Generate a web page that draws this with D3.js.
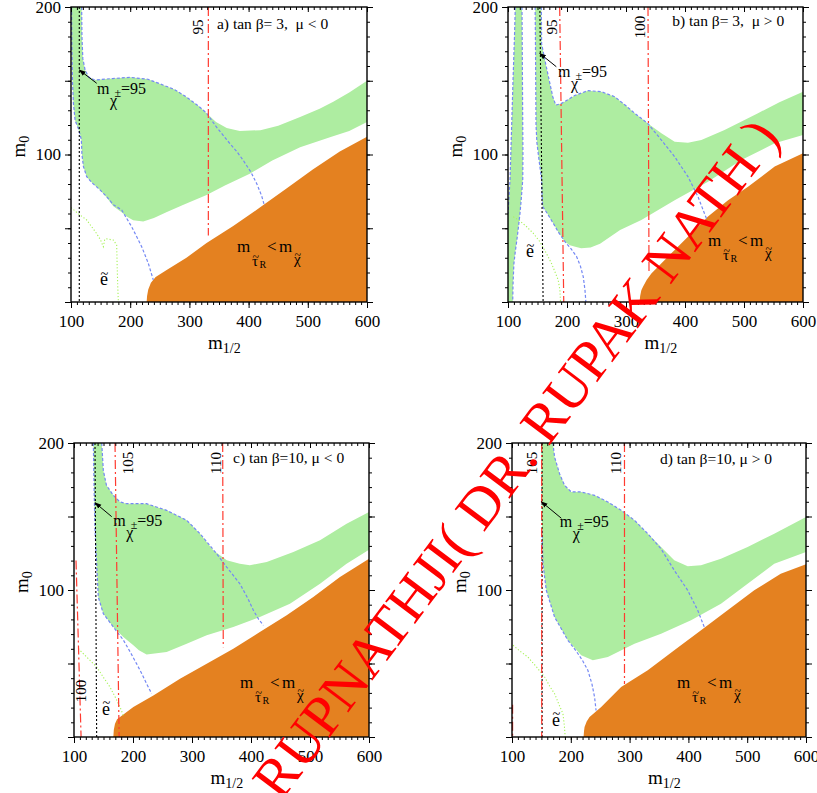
<!DOCTYPE html>
<html><head><meta charset="utf-8">
<script src="https://cdn.jsdelivr.net/npm/d3@7/dist/d3.min.js"></script>
<style>
body{margin:0;background:#fff}
svg{display:block}
text{font-family:"Liberation Serif","Times New Roman",serif;fill:#000;white-space:pre}
</style>
</head><body>
<svg id="c" width="817" height="793"></svg>
<script>
// ---------------- DATA (m_1/2 , m_0) ----------------
const X_TICK_LABELS = [100,200,300,400,500,600];
const Y_TICK_LABELS = [100,200];
const TITLES = ["a) tan \u03b2= 3,  \u03bc < 0","b) tan \u03b2= 3,  \u03bc > 0","c) tan \u03b2=10, \u03bc < 0","d) tan \u03b2=10, \u03bc > 0"];

// panel a
const greenA = [[101,200],[118,200],[118.5,180],[120,165],[124,157],[130,152.5],[140,150.5],[170,151.5],[200,152.3],[230,151],[250,148],[275,144],[295,139],[315,133],[329,128],[345,122],[363,118],[385,116],[420,116.5],[450,119.5],[487,125.5],[520,131],[543,135.8],[570,142],[600,150],[600,122],[570,116],[540,112],[487,105],[440,96],[402,87],[360,79],[329,72.5],[290,66],[262,61],[240,57],[222,54.5],[205,55.5],[194,58],[185,61],[171.5,65],[160,71],[149,76],[135,81],[126.5,85],[121,91.8],[118.5,100],[117.5,110],[113,117],[107,123],[104,135],[102.5,150],[101.5,175]];
const orangeA = [[227.8,0],[228.5,4],[230.5,8.5],[235,13],[243,17],[261.6,21.7],[295,30],[329,40],[374,51.5],[419,64],[464,77],[509,90],[554,102],[600,112],[600,0]];
const blueA1 = [[118,200],[118.5,180],[120,165],[124,157],[130,152.5],[140,150.5],[170,151.5],[200,152.3],[230,151],[250,148],[275,144],[295,139],[315,133],[329,128],[345,119],[363,110],[380,102],[391,96],[404,88],[414,80],[422,72],[427,65]];
const blueA2 = [[101,200],[101.5,175],[102.5,150],[104,135],[107,123],[113,117],[117.5,110],[118.5,100],[121,91.8],[126.5,85],[135,81],[149,76],[160.3,71.4],[171.5,66],[185.6,62.4],[202.5,51],[219.4,37.5],[230.6,26.2],[239,15]];
const greenDotA = [[100,64],[112,60],[126.5,55.6],[143,46.6],[150,42],[154.6,37.5],[157,42.5],[160,42.8],[171.5,42],[177.2,38.6],[178,24],[179,10],[180,0]];
const redA = [{m:[332,332], y:[200,45], label:"95"}];
const blackA = [[114,200],[114,0]];

// panel b
const greenB1 = [[112.4,200],[123.7,200],[124.5,150],[125.3,100],[125,83],[122.5,70],[120.3,60],[116,45],[112,33],[110,26],[108.5,12],[108,0],[100,0],[100,60],[103.4,82.7],[105.5,110],[108.5,150],[111,180]];
const greenB2 = [[146,200],[156.5,200],[157,175],[162,165],[170,150],[176,139],[181,133.5],[190,134.5],[196,135.8],[213,140],[235.6,143.3],[258,142.6],[280.8,139.2],[300,133],[314.7,128],[337,121],[360,114.4],[382.5,108.7],[405,108],[427.7,109.8],[467,116.6],[523.7,128],[560,135.5],[600,142.6],[600,113.2],[552,107.6],[495.5,96.3],[439,81.6],[382.5,69],[326,55.6],[290,48.8],[256,39.5],[240,37],[224,36.4],[214,37.5],[205,38.5],[196.6,40.9],[186,47],[176.8,53.3],[165,61],[158.8,64.6],[157.5,75],[157,82.7],[153,95],[149,108],[147.5,120],[147,150],[146.5,180]];
const orangeB = [[323,0],[324,4],[326,8],[328.8,10.4],[335,15],[343,19.4],[371,30.7],[405,44.3],[439,57.9],[473,69],[506.8,78.2],[552,91.8],[600,100.8],[600,0]];
const blueB1 = [[112.4,200],[111,180],[108.5,150],[105.5,110],[103.4,82.7],[100,60]];
const blueB2 = [[123.7,200],[124.5,150],[125.3,100],[125,83],[122.5,70],[120.3,60],[116,45],[112,33],[110,26],[108.5,12],[108,0]];
const blueB3 = [[146,200],[146.5,180],[147,150],[147.5,120],[149,108],[153,95],[157,82.7],[157.5,75],[158.8,64.6],[165,61],[176.8,53.3],[186,47],[196.6,40.9],[207,36],[216.4,30.7],[223,24],[227.6,17],[230.5,8],[232,0]];
const blueB4 = [[156.5,200],[157,175],[162,165],[170,150],[176,139],[181,133.5],[190,134.5],[196,135.8],[213,140],[235.6,143.3],[258,142.6],[280.8,139.2],[300,133],[314.7,128],[337,121],[360,109.8],[382.5,98.5],[405,85],[422,71.4],[433,60],[437,56]];
const greenDotB = [[109,57.8],[120,55],[131.7,51],[143,46.5],[154,40.9],[165,33],[174,26],[180,20],[185,15],[188,8],[189,0]];
const redB = [{m:[187.6,194.5], y:[200,0], label:"95"},{m:[337.3,339], y:[200,20], label:"100"}];
const blackB = [[154,200],[159.5,0]];

// panel c
const greenC = [[132.8,200],[147,200],[149.7,181.4],[155,171.2],[166.7,164.4],[178,159.9],[189,158.7],[223,158.7],[257,154.2],[291,147.4],[313.6,138.3],[336,127],[358.8,120.2],[381,117.9],[398,116.8],[426.6,119],[471.8,125.9],[517,133.8],[562,145],[600,153],[600,127.4],[562,117.9],[517,104.3],[466,90.7],[415,81.6],[370,74.8],[324.9,69.2],[291,63.5],[257,57.8],[223,56.2],[210,59],[200.6,62.4],[183.6,68],[166.7,74.8],[149.7,83.9],[141.2,95.2],[138.4,118],[135.6,140.6],[134,170]];
const orangeC = [[166.7,0],[167.5,5],[169.5,9],[173,12],[178,13.6],[200.6,20.4],[234.5,28.3],[279.7,39.7],[324.9,49.9],[370,60],[415,71.4],[460.5,82.8],[505.6,95.2],[550.8,108.8],[600,121.3],[600,0]];
const blueC1 = [[147,200],[149.7,181.4],[155,171.2],[166.7,164.4],[178,159.9],[189,158.7],[223,158.7],[257,154.2],[291,147.4],[313.6,138.3],[341.8,124.7],[358.8,115.6],[381,104.3],[395,94],[404,86.2],[413,80],[421,76]];
const blueC2 = [[132.8,200],[134,170],[135.6,140.6],[138.4,118],[141.2,95.2],[149.7,83.9],[166.7,74.8],[183.6,66],[195,58],[206,49.9],[215,43],[223,36.3],[231.6,29.5]];
const greenDotC = [[107.3,60.1],[120,55],[138.5,47.6],[150,40.5],[161,34],[170,27],[178,20.4],[183.6,14.7]];
const redC = [{m:[169.5,176.5], y:[200,0], label:"105"},{m:[352,353], y:[200,61], label:"110"},{m:[103.4,112], y:[120,0], label:"100"}];
const blackC = [[135.6,200],[138.4,0]];

// panel d
const greenD = [[149.8,200],[169.6,200],[172.4,190.5],[180.9,179.1],[189.4,171.2],[200.7,166.7],[217.7,166.7],[240.4,164.4],[263,159.9],[285.6,154.2],[308.3,147.4],[330.9,138.3],[353.5,129.3],[376,120.2],[398.8,116.1],[421.5,116.8],[455.4,121.3],[500.7,129.3],[546,138.3],[600,149.7],[600,125.9],[546,117.9],[500.7,104.3],[455.4,90.7],[404.5,79.4],[353.5,70.3],[308.3,63.5],[263,54.4],[237.5,52.2],[217.7,55.6],[195,65.8],[172.4,81.6],[158.3,99.8],[152.6,118],[151,140.6],[150.3,170]];
const orangeD = [[221.7,0],[222.5,4],[223.4,6.8],[227,10.5],[231.9,13.6],[251.7,20.4],[285.6,34],[330.9,45.4],[376,59],[421.5,72.6],[466.7,86.2],[512,99.8],[557,111.1],[600,117.5],[600,0]];
const blueD1 = [[169.6,200],[172.4,190.5],[180.9,179.1],[189.4,171.2],[200.7,166.7],[217.7,166.7],[240.4,164.4],[263,159.9],[285.6,154.2],[308.3,147.4],[330.9,138.3],[353.5,128],[376,113.4],[398.8,99.8],[415.8,86.2],[427,74.8]];
const blueD2 = [[151,140.6],[152.6,118],[158.3,99.8],[172.4,81.6],[195,65.8],[210,58],[220,52],[229,45.4],[236,36],[240.4,27.2],[243,18]];
const greenDotD = [[101.7,62.4],[115,58],[127,54.4],[142,47.5],[155.5,40.8],[165,34],[172.4,29.5],[180,22],[186.6,15.9],[189,8],[190.5,0]];
const redD = [{m:[150.5,150.5], y:[200,0], label:"105"},{m:[291.3,291.3], y:[200,36], label:"110"},{m:[101,101], y:[22,0], label:""}];
const blackD = [[151.2,200],[151.2,0]];

const WATERMARK = "RUPNATHJI( DR. RUPAK NATH )";

// ---------------- STYLE / LAYOUT ----------------
const GREEN = "#aeeda1", ORANGE = "#e48120", BLUE = "#7488f4", RED = "#ff3b30", GDOT = "#a8f25a";

const panels = [
  {id:"a", frame:[71,7,367,302], title:TITLES[0], titleAt:[346.6,185.1],
   green:[greenA], orange:orangeA, blue:[blueA1,blueA2], gdot:greenDotA, red:redA, black:blackA,
   redLab:[{dx:-5}], chiAt:[143.9,141], arrow:[[143.4,148.3],[114,157.3]], eAt:[149,11.5], tauAt:[380.4,33.9]},
  {id:"b", frame:[508,7,803,302], title:TITLES[1], titleAt:[378.3,187.1],
   green:[greenB1,greenB2], orange:orangeB, blue:[blueB1,blueB2,blueB3,blueB4], gdot:greenDotB, red:redB, black:blackB,
   redLab:[{dx:-3},{dx:-3}], chiAt:[184.7,152.7], arrow:[[181.9,159.5],[153.7,168.6]], eAt:[130.5,30.5], tauAt:[439,38]},
  {id:"c", frame:[74,443,369,737], title:TITLES[2], titleAt:[369.5,186.1],
   green:[greenC], orange:orangeC, blue:[blueC1,blueC2], gdot:greenDotC, red:redC, black:blackC,
   redLab:[{dx:18},{dx:-2},{dx:10, cy:691}], chiAt:[166.6,143.5], arrow:[[163.9,149.9],[135.6,159.4]], eAt:[147.5,15], tauAt:[381.4,33.3]},
  {id:"d", frame:[512,443,806,737], title:TITLES[3], titleAt:[351.7,185.7],
   green:[greenD], orange:orangeD, blue:[blueD1,blueD2], gdot:greenDotD, red:redD, black:blackD,
   redLab:[{dx:-5},{dx:-3},{dx:0}], chiAt:[181.1,143.1], arrow:[[183.9,148.8],[149.8,160.1]], eAt:[168,7.5], tauAt:[380.6,33.3]}
];

const svg = d3.select("#c");
const defs = svg.append("defs");
defs.append("marker").attr("id","arr").attr("viewBox","0 0 10 10").attr("refX",9).attr("refY",5)
  .attr("markerWidth",7).attr("markerHeight",7).attr("orient","auto")
  .append("path").attr("d","M0,1.5 L10,5 L0,8.5 Z").attr("fill","#000");

function tilded(g, x, y, ch, size){
  g.append("text").attr("x",x).attr("y",y).attr("font-size",size).text(ch);
  g.append("text").attr("x",x+0.5).attr("y",y-size*0.36).attr("font-size",size*0.8).text("~");
}

function drawPanel(p){
  const [x0,y0,x1,y1] = p.frame;
  const x = d3.scaleLinear().domain([100,600]).range([x0,x1]);
  const y = d3.scaleLinear().domain([0,200]).range([y1,y0]);
  const line = d3.line().x(d=>x(d[0])).y(d=>y(d[1]));
  defs.append("clipPath").attr("id","clip"+p.id).append("rect")
    .attr("x",x0).attr("y",y0).attr("width",x1-x0).attr("height",y1-y0);
  const g = svg.append("g");
  const pg = g.append("g").attr("clip-path",`url(#clip${p.id})`);

  p.green.forEach(poly => pg.append("path").attr("d", line(poly)+"Z").attr("fill",GREEN));
  pg.append("path").attr("d", line(p.orange)+"Z").attr("fill",ORANGE);

  p.blue.forEach(l => pg.append("path").attr("d", line(l)).attr("fill","none")
    .attr("stroke",BLUE).attr("stroke-width",1.2).attr("stroke-dasharray","3,2"));
  pg.append("path").attr("d", line(p.gdot)).attr("fill","none")
    .attr("stroke",GDOT).attr("stroke-width",1.1).attr("stroke-dasharray","1.2,2");
  pg.append("path").attr("d", line(p.black)).attr("fill","none")
    .attr("stroke","#000").attr("stroke-width",1.1).attr("stroke-dasharray","2,2");
  p.red.forEach((r,i) => {
    pg.append("line").attr("x1",x(r.m[0])).attr("y1",y(r.y[0])).attr("x2",x(r.m[1])).attr("y2",y(r.y[1]))
      .attr("stroke",RED).attr("stroke-width",1.2).attr("stroke-dasharray","9,3,2,3");
    if(r.label){
      const lab = p.redLab[i];
      const bx = x(r.m[0]) + lab.dx;
      const cy = lab.cy !== undefined ? lab.cy : y0 + 20;
      g.append("text").attr("transform",`translate(${bx},${cy}) rotate(-90)`)
        .attr("text-anchor","middle").attr("font-size",15).text(r.label);
    }
  });

  // arrow
  g.append("line").attr("x1",x(p.arrow[0][0])).attr("y1",y(p.arrow[0][1]))
    .attr("x2",x(p.arrow[1][0])).attr("y2",y(p.arrow[1][1]))
    .attr("stroke","#000").attr("stroke-width",1).attr("marker-end","url(#arr)");

  // m_chi label
  const cx = x(p.chiAt[0]), cyy = y(p.chiAt[1]);
  g.append("text").attr("x",cx).attr("y",cyy).attr("font-size",16).text("m");
  g.append("text").attr("x",cx+13).attr("y",cyy+12).attr("font-size",16).text("\u03c7");
  g.append("text").attr("x",cx+17.5).attr("y",cyy+3).attr("font-size",12).text("\u00b1");
  g.append("text").attr("x",cx+24).attr("y",cyy).attr("font-size",16).text("=95");

  // selectron label
  tilded(g, x(p.eAt[0]), y(p.eAt[1]), "e", 18);

  // stau < chi label
  const tx = x(p.tauAt[0]), ty = y(p.tauAt[1]);
  g.append("text").attr("x",tx).attr("y",ty).attr("font-size",17).text("m");
  tilded(g, tx+15, ty+14, "\u03c4", 15);
  g.append("text").attr("x",tx+22.5).attr("y",ty+16).attr("font-size",10).text("R");
  g.append("text").attr("x",tx+30).attr("y",ty).attr("font-size",17).text("<");
  g.append("text").attr("x",tx+42).attr("y",ty).attr("font-size",17).text("m");
  tilded(g, tx+57, ty+12, "\u03c7", 15);

  // title
  g.append("text").attr("x",x(p.titleAt[0])).attr("y",y(p.titleAt[1])).attr("font-size",15.5).text(p.title);

  // axes
  const xMinor = d3.range(100,601,10), yMinor = d3.range(0,201,10);
  const bottomMinor = g.append("g").attr("transform",`translate(0,${y1})`)
    .call(d3.axisBottom(x).tickValues(xMinor).tickSize(3).tickFormat(""));
  const bottomMajor = g.append("g").attr("transform",`translate(0,${y1})`)
    .call(d3.axisBottom(x).tickValues(X_TICK_LABELS).tickSize(6).tickPadding(7).tickFormat(d3.format("d")));
  const leftMinor = g.append("g").attr("transform",`translate(${x0},0)`)
    .call(d3.axisLeft(y).tickValues(yMinor).tickSize(3).tickFormat(""));
  const leftMajor = g.append("g").attr("transform",`translate(${x0},0)`)
    .call(d3.axisLeft(y).tickValues([0,50,100,150,200]).tickSize(6).tickPadding(4)
      .tickFormat(d => Y_TICK_LABELS.includes(d) ? d : ""));
  const rightMinor = g.append("g").attr("transform",`translate(${x1},0)`)
    .call(d3.axisRight(y).tickValues(yMinor).tickSize(3).tickFormat(""));
  const rightMajor = g.append("g").attr("transform",`translate(${x1},0)`)
    .call(d3.axisRight(y).tickValues([0,50,100,150,200]).tickSize(6).tickFormat(""));
  const topMinor = g.append("g").attr("transform",`translate(0,${y0})`)
    .call(d3.axisBottom(x).tickValues(xMinor).tickSize(3).tickFormat(""));
  const topMajor = g.append("g").attr("transform",`translate(0,${y0})`)
    .call(d3.axisBottom(x).tickValues(X_TICK_LABELS).tickSize(5).tickFormat(""));
  [bottomMinor,bottomMajor,leftMinor,leftMajor,rightMinor,rightMajor,topMinor,topMajor].forEach(a=>{
    a.select(".domain").remove();
    a.selectAll("line").attr("stroke","#000").attr("stroke-width",1);
    a.selectAll("text").attr("font-family","Liberation Serif").attr("font-size",17).attr("fill","#000");
  });

  // frame
  g.append("rect").attr("x",x0).attr("y",y0).attr("width",x1-x0).attr("height",y1-y0)
    .attr("fill","none").attr("stroke","#000").attr("stroke-width",1.4);

  // axis titles
  const mx = (x0+x1)/2 - 11;
  const xt = g.append("text").attr("x",mx).attr("y",y1+47).attr("font-size",19);
  xt.append("tspan").text("m");
  xt.append("tspan").attr("dy",4).attr("font-size",14).text("1/2");
  const yt = g.append("text").attr("transform",`translate(${x0-46},${(y0+y1)/2+3}) rotate(-90)`).attr("font-size",19);
  yt.append("tspan").text("m");
  yt.append("tspan").attr("dy",4).attr("font-size",14).text("0");
}

panels.forEach(drawPanel);

// watermark
svg.append("text").attr("transform","translate(531,470) rotate(-53)")
  .attr("text-anchor","middle").attr("font-size",57)
  .attr("font-family","Liberation Sans, Arial, sans-serif").style("fill","#ff0000")
  .text(WATERMARK);
</script>
</body></html>
